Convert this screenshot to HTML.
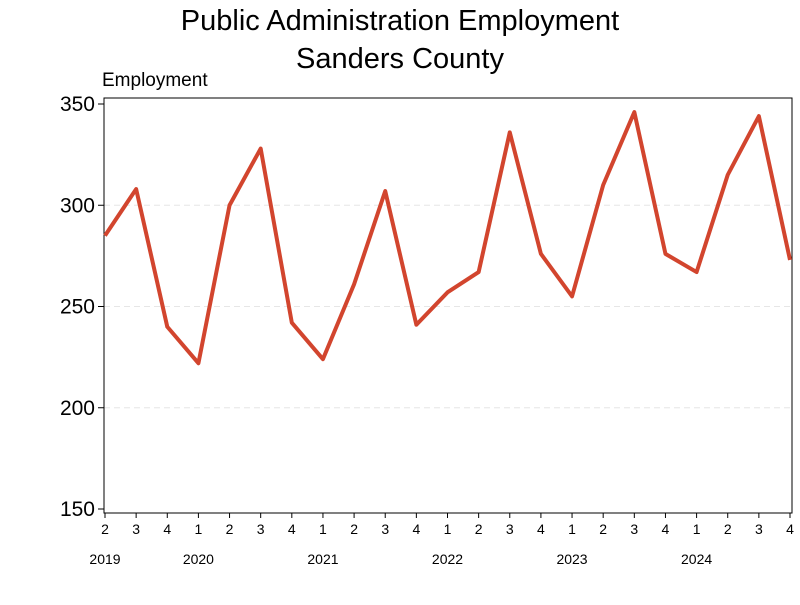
<!DOCTYPE html>
<html><head><meta charset="utf-8"><style>
body{margin:0;background:#fff;font-family:"Liberation Sans",sans-serif;}
</style></head><body>
<svg id="chart" width="800" height="600" xmlns="http://www.w3.org/2000/svg" font-family="Liberation Sans, sans-serif">
<text x="400" y="30" font-size="29" text-anchor="middle">Public Administration Employment</text>
<text x="400" y="68" font-size="29" text-anchor="middle">Sanders County</text>
<text x="102" y="86" font-size="19">Employment</text>
<g id="grid"></g>
<rect x="104" y="98" width="688" height="415" fill="none" stroke="#000" stroke-width="1"/>
<g id="yt"></g><g id="xt"></g>
<path id="line" fill="none" stroke="#d2452e" stroke-width="4" stroke-linejoin="round"/>
</svg>
<script>
const quarters=["2","3","4","1","2","3","4","1","2","3","4","1","2","3","4","1","2","3","4","1","2","3","4"];
const values=[285,308,240,222,300,328,242,224,261,307,241,257,267,336,276,255,310,346,276,267,315,344,273];
const yTicks=[150,200,250,300,350];
const years=["2019","2020","2021","2022","2023","2024"];
const yearIdx=[0,3,7,11,15,19];
const NS="http://www.w3.org/2000/svg";
const x=i=>105+i*(685/(values.length-1));
const y=v=>509-(v-150)*(405/200);
function mk(t,a,p){const e=document.createElementNS(NS,t);for(const k in a)e.setAttribute(k,a[k]);p.appendChild(e);return e;}
const g=document.getElementById('grid'),yt=document.getElementById('yt'),xt=document.getElementById('xt');
yTicks.forEach(v=>{
 if(v>150&&v<350){const l=mk('line',{x1:104,x2:792,y1:y(v),y2:y(v),stroke:'#e6e6e6','stroke-dasharray':'6,4'},g);
 }
 const t=mk('line',{x1:98,x2:104,y1:y(v),y2:y(v),stroke:'#000'},yt);
 
 const s=mk('text',{x:95,y:y(v)+7,'font-size':21,'text-anchor':'end'},yt);s.textContent=v;
 
});
quarters.forEach((q,i)=>{
 const t=mk('line',{x1:x(i),x2:x(i),y1:513,y2:518,stroke:'#000'},xt);
 
 const s=mk('text',{x:x(i),y:534,'font-size':14,'text-anchor':'middle'},xt);s.textContent=q;
 
});
years.forEach((yr,k)=>{
 const s=mk('text',{x:x(yearIdx[k]),y:564,'font-size':14,'text-anchor':'middle'},xt);s.textContent=yr;
 
});
document.getElementById('line').setAttribute('d',values.map((v,i)=>(i?'L':'M')+x(i)+','+y(v)).join(''));
</script>
</body></html>
